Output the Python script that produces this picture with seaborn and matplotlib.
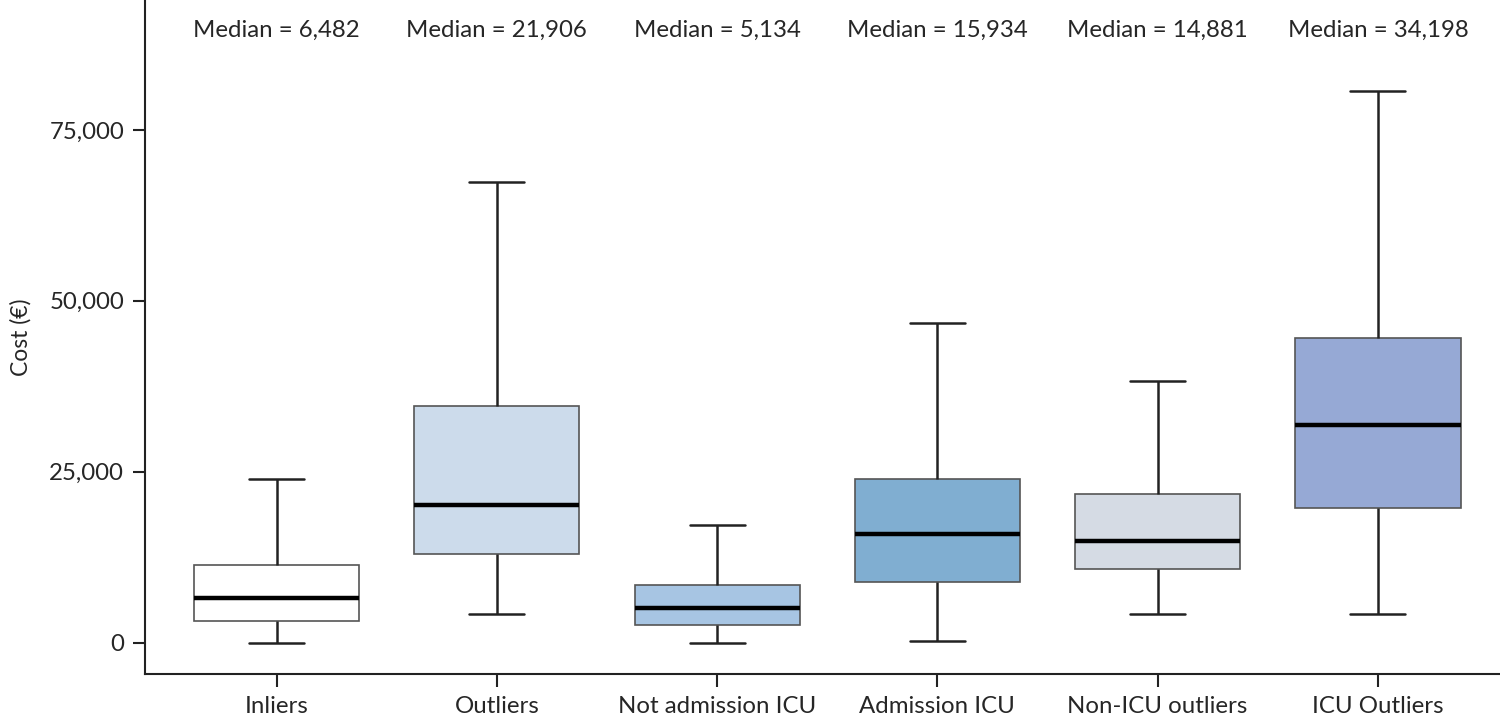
import numpy as np
import pandas as pd
import seaborn as sns
import matplotlib.pyplot as plt

# groups and five-number summaries (euros)
groups = ["Inliers", "Outliers", "Not admission ICU", "Admission ICU",
          "Non-ICU outliers", "ICU Outliers"]
low = [0, 4200, 0, 300, 4200, 4200]
q1 = [3200, 12900, 2600, 8900, 10800, 19700]
med = [6482, 20200, 5134, 15934, 14881, 31900]
q3 = [11400, 34600, 8500, 24000, 21800, 44600]
high = [24000, 67400, 17250, 46700, 38300, 80700]
median_labels = ["6,482", "21,906", "5,134", "15,934", "14,881", "34,198"]
colors = ["#ffffff", "#ccdbeb", "#a7c5e3", "#80aed1", "#d5dbe4", "#96a9d5"]

# five points per group give exactly these quartiles
rows = []
for g, a, b, c, d, e in zip(groups, low, q1, med, q3, high):
    for v in (a, b, c, d, e):
        rows.append({"group": g, "cost": v})
df = pd.DataFrame(rows)

sns.set_theme(style="ticks")
plt.rcParams["font.family"] = ["Lato", "DejaVu Sans"]

fig = plt.figure(figsize=(15, 7.17), dpi=100)
ax = fig.add_axes([0.0967, 0.06, 0.9033, 0.94])

box_w = 0.75
sns.boxplot(data=df, x="group", y="cost", hue="group", order=groups,
            palette=colors, saturation=1, width=box_w, whis=(0, 100),
            legend=False, ax=ax,
            boxprops=dict(edgecolor="#555555", linewidth=1.2),
            whiskerprops=dict(color="#222222", linewidth=1.8),
            capprops=dict(color="#222222", linewidth=1.8),
            medianprops=dict(color="black", linewidth=3.2))

# caps are narrower in the original: a third of the box width
for ln in ax.lines:
    x = np.asarray(ln.get_xdata(), dtype=float)
    y = np.asarray(ln.get_ydata(), dtype=float)
    if len(x) == 2 and y[0] == y[1] and abs((x[1] - x[0]) - box_w / 2) < 1e-6:
        c = x.mean()
        ln.set_xdata([c - box_w / 6, c + box_w / 6])

for i, lab in enumerate(median_labels):
    ax.text(i, 89600, "Median = " + lab, ha="center", va="center", fontsize=17.3)

ax.set_ylim(-4580, 94000)
ax.set_xlim(-0.597, 5.554)
ax.set_yticks([0, 25000, 50000, 75000])
ax.set_yticklabels(["0", "25,000", "50,000", "75,000"])
ax.set_xlabel("")
ax.set_ylabel("Cost (€)", fontsize=16.5, labelpad=13)
ax.tick_params(axis="both", labelsize=17.3, length=9, width=1.5, color="#222222")
ax.tick_params(axis="x", pad=7)
ax.tick_params(axis="y", pad=6)
for s in ["top", "right"]:
    ax.spines[s].set_visible(False)
for s in ["left", "bottom"]:
    ax.spines[s].set_linewidth(1.5)
    ax.spines[s].set_color("#222222")

fig.savefig("out.png", dpi=100)
